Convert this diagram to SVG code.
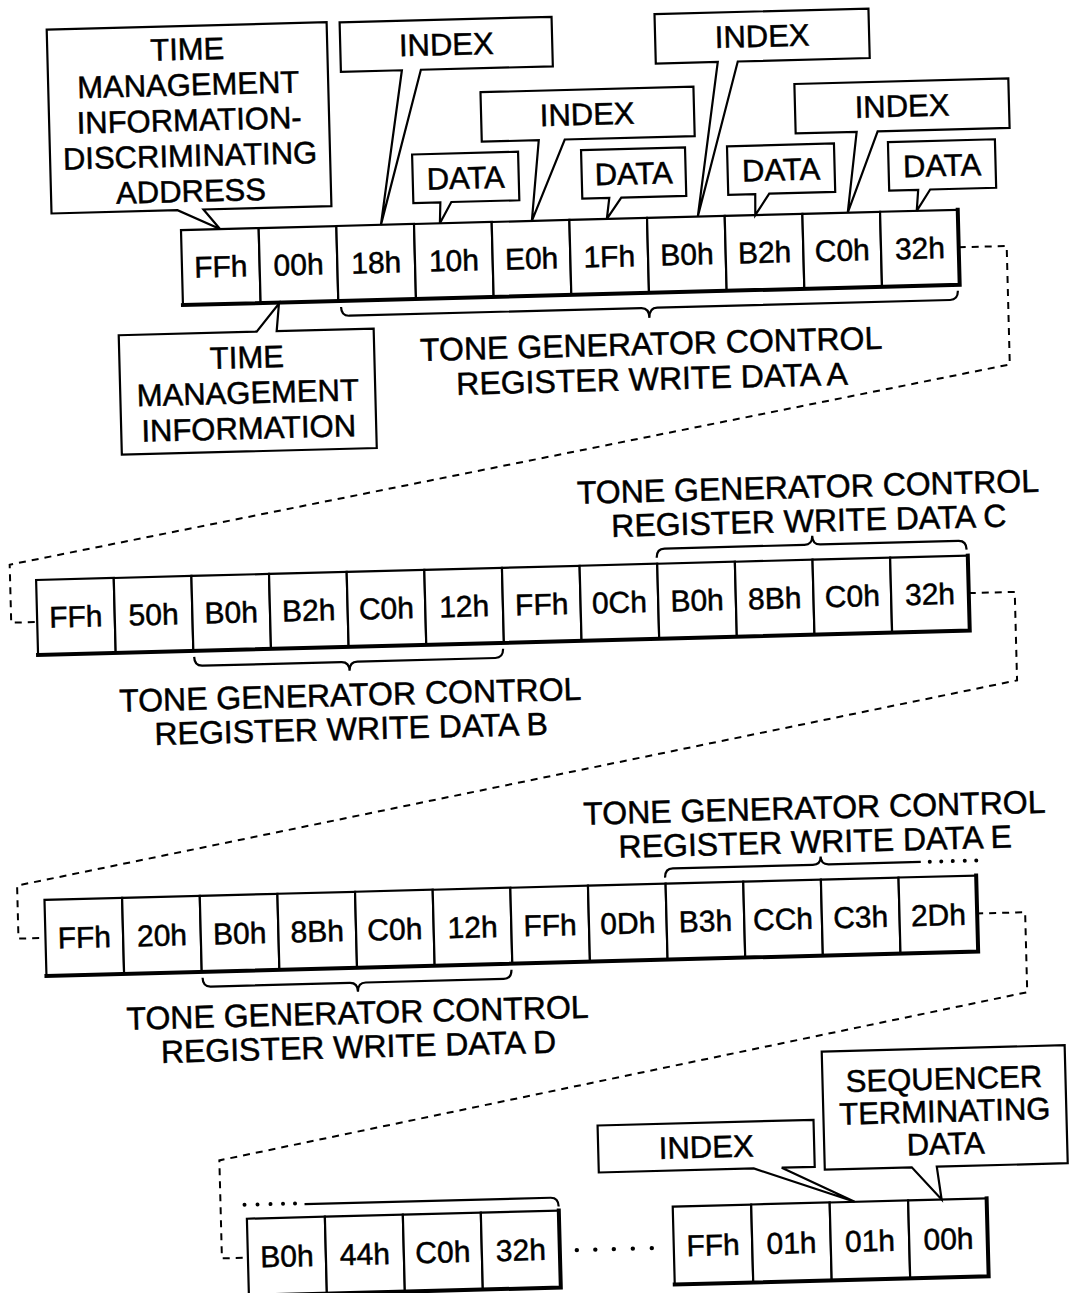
<svg xmlns="http://www.w3.org/2000/svg" width="1069" height="1293" viewBox="0 0 1069 1293">
<style>
  .bg{fill:#fff}
  .cell{fill:#fff;stroke:#000;stroke-width:2.2}
  .edge{fill:none;stroke:#000;stroke-width:4;stroke-linecap:square}
  .call{fill:#fff;stroke:#000;stroke-width:2.2;stroke-linejoin:miter}
  .brace{fill:none;stroke:#000;stroke-width:2.2}
  .dash{fill:none;stroke:#000;stroke-width:2;stroke-dasharray:7 6}
  .dot{fill:#000}
  text{font-family:"Liberation Sans",Arial,Helvetica,sans-serif;fill:#000;stroke:#000;stroke-width:0.5;text-anchor:middle}
  .v{font-size:30px}
  .c{font-size:31px}
  .l{font-size:32px}
</style>
<rect class="bg" x="0" y="0" width="1069" height="1293"/>
<g transform="rotate(-1.5 534 646)">

<g id="connectors">
  <path class="dash" d="M969 258.5 H1017 V377 L12 551 V609 H38"/>
  <path class="dash" d="M970 604.5 H1016 V693 L11 872 V925 H38"/>
  <path class="dash" d="M969 925 H1018 V1005 L206 1152 V1250 H232"/>
  <g id="gap-dots">
    <circle class="dot" cx="561" cy="1251" r="2.2"/>
    <circle class="dot" cx="579.5" cy="1251" r="2.2"/>
    <circle class="dot" cx="598" cy="1251" r="2.2"/>
    <circle class="dot" cx="617" cy="1251" r="2.2"/>
    <circle class="dot" cx="636" cy="1251" r="2.2"/>
  </g>
</g>

<!-- Row 1 -->
<g id="row1">
  <rect class="cell" x="192" y="221" width="77.7" height="75"/>
  <rect class="cell" x="269.7" y="221" width="77.7" height="75"/>
  <rect class="cell" x="347.4" y="221" width="77.7" height="75"/>
  <rect class="cell" x="425.1" y="221" width="77.7" height="75"/>
  <rect class="cell" x="502.8" y="221" width="77.7" height="75"/>
  <rect class="cell" x="580.5" y="221" width="77.7" height="75"/>
  <rect class="cell" x="658.2" y="221" width="77.7" height="75"/>
  <rect class="cell" x="735.9" y="221" width="77.7" height="75"/>
  <rect class="cell" x="813.6" y="221" width="77.7" height="75"/>
  <rect class="cell" x="891.3" y="221" width="77.7" height="75"/>
  <path class="edge" d="M192 296 H969 V221"/>
  <text class="v" x="230.9" y="269">FFh</text>
  <text class="v" x="308.6" y="269">00h</text>
  <text class="v" x="386.3" y="269">18h</text>
  <text class="v" x="464" y="269">10h</text>
  <text class="v" x="541.7" y="269">E0h</text>
  <text class="v" x="619.4" y="269">1Fh</text>
  <text class="v" x="697.1" y="269">B0h</text>
  <text class="v" x="774.8" y="269">B2h</text>
  <text class="v" x="852.5" y="269">C0h</text>
  <text class="v" x="930.2" y="269">32h</text>
</g>

<g id="callout-tmida">
  <polygon class="call" points="63,17 343,17 343,201 215,201 231,221 189,201 63,201"/>
  <text class="c" x="203" y="51">TIME</text>
  <text class="c" x="203" y="86.5">MANAGEMENT</text>
  <text class="c" x="203" y="122">INFORMATION-</text>
  <text class="c" x="203" y="157.5">DISCRIMINATING</text>
  <text class="c" x="203" y="193">ADDRESS</text>
</g>
<g id="callout-index1">
  <polygon class="call" points="356,17.5 568,17.5 568,67 436,67 392,221 417,67 356,67"/>
  <text class="c" x="462" y="53">INDEX</text>
</g>
<g id="callout-index2">
  <polygon class="call" points="495,91 708,91 708,140.5 578,140.5 543,221 552,140.5 495,140.5"/>
  <text class="c" x="601" y="126.5">INDEX</text>
</g>
<g id="callout-index3">
  <polygon class="call" points="671,17.5 885,17.5 885,67 753,67 709,221 733,67 671,67"/>
  <text class="c" x="778" y="53">INDEX</text>
</g>
<g id="callout-index4">
  <polygon class="call" points="809,91 1023,91 1023,140.5 891,140.5 859,221 870,140.5 809,140.5"/>
  <text class="c" x="916" y="126.5">INDEX</text>
</g>
<g id="callout-data1">
  <polygon class="call" points="425,151.5 531,151.5 531,200 463,200 451,221 452,200 425,200"/>
  <text class="c" x="478" y="187">DATA</text>
</g>
<g id="callout-data2">
  <polygon class="call" points="594,151.5 698,151.5 698,200 633,200 618,221 621,200 594,200"/>
  <text class="c" x="646" y="187">DATA</text>
</g>
<g id="callout-data3">
  <polygon class="call" points="740,151.5 847,151.5 847,200 781,200 766.5,221 767,200 740,200"/>
  <text class="c" x="793.5" y="187">DATA</text>
</g>
<g id="callout-data4">
  <polygon class="call" points="901,151.5 1008,151.5 1008,200 942,200 928,221 930,200 901,200"/>
  <text class="c" x="954.5" y="187">DATA</text>
</g>
<g id="callout-tmi">
  <polygon class="call" points="127,324.5 265,324.5 288,297 285,324.5 382,324.5 382,444 127,444"/>
  <text class="c" x="254.5" y="360.5">TIME</text>
  <text class="c" x="254.5" y="396">MANAGEMENT</text>
  <text class="c" x="254.5" y="431.5">INFORMATION</text>
</g>
<g id="label-a">
  <path class="brace" d="M350 302 Q350 311 358 311 L650 311 Q658 311 658 321 Q658 311 666 311 L959 311 Q967 311 967 302"/>
  <text class="l" x="659" y="358">TONE GENERATOR CONTROL</text>
  <text class="l" x="659" y="393">REGISTER WRITE DATA A</text>
</g>

<!-- Row 2 -->
<g id="row2">
  <rect class="cell" x="38" y="567" width="77.67" height="75"/>
  <rect class="cell" x="115.67" y="567" width="77.67" height="75"/>
  <rect class="cell" x="193.33" y="567" width="77.67" height="75"/>
  <rect class="cell" x="271" y="567" width="77.67" height="75"/>
  <rect class="cell" x="348.67" y="567" width="77.67" height="75"/>
  <rect class="cell" x="426.33" y="567" width="77.67" height="75"/>
  <rect class="cell" x="504" y="567" width="77.67" height="75"/>
  <rect class="cell" x="581.67" y="567" width="77.67" height="75"/>
  <rect class="cell" x="659.33" y="567" width="77.67" height="75"/>
  <rect class="cell" x="737" y="567" width="77.67" height="75"/>
  <rect class="cell" x="814.67" y="567" width="77.67" height="75"/>
  <rect class="cell" x="892.33" y="567" width="77.67" height="75"/>
  <path class="edge" d="M38 642 H970 V567"/>
  <text class="v" x="76.8" y="615">FFh</text>
  <text class="v" x="154.5" y="615">50h</text>
  <text class="v" x="232.2" y="615">B0h</text>
  <text class="v" x="309.8" y="615">B2h</text>
  <text class="v" x="387.5" y="615">C0h</text>
  <text class="v" x="465.2" y="615">12h</text>
  <text class="v" x="542.8" y="615">FFh</text>
  <text class="v" x="620.5" y="615">0Ch</text>
  <text class="v" x="698.2" y="615">B0h</text>
  <text class="v" x="775.8" y="615">8Bh</text>
  <text class="v" x="853.5" y="615">C0h</text>
  <text class="v" x="931.2" y="615">32h</text>
</g>
<g id="label-b">
  <path class="brace" d="M194 648 Q194 657 202 657 L341 657 Q349 657 349 666 Q349 657 357 657 L495 657 Q503 657 503 648"/>
  <text class="l" x="349" y="701">TONE GENERATOR CONTROL</text>
  <text class="l" x="349" y="735">REGISTER WRITE DATA B</text>
</g>
<g id="label-c">
  <path class="brace" d="M659 561 Q659 552 667 552 L807 552 Q815 552 815 543 Q815 552 823 552 L961 552 Q969 552 969 561"/>
  <text class="l" x="812" y="505">TONE GENERATOR CONTROL</text>
  <text class="l" x="812" y="539">REGISTER WRITE DATA C</text>
</g>

<!-- Row 3 -->
<g id="row3">
  <rect class="cell" x="38" y="887" width="77.67" height="76"/>
  <rect class="cell" x="115.67" y="887" width="77.67" height="76"/>
  <rect class="cell" x="193.33" y="887" width="77.67" height="76"/>
  <rect class="cell" x="271" y="887" width="77.67" height="76"/>
  <rect class="cell" x="348.67" y="887" width="77.67" height="76"/>
  <rect class="cell" x="426.33" y="887" width="77.67" height="76"/>
  <rect class="cell" x="504" y="887" width="77.67" height="76"/>
  <rect class="cell" x="581.67" y="887" width="77.67" height="76"/>
  <rect class="cell" x="659.33" y="887" width="77.67" height="76"/>
  <rect class="cell" x="737" y="887" width="77.67" height="76"/>
  <rect class="cell" x="814.67" y="887" width="77.67" height="76"/>
  <rect class="cell" x="892.33" y="887" width="77.67" height="76"/>
  <path class="edge" d="M38 963 H970 V887"/>
  <text class="v" x="76.8" y="936">FFh</text>
  <text class="v" x="154.5" y="936">20h</text>
  <text class="v" x="232.2" y="936">B0h</text>
  <text class="v" x="309.8" y="936">8Bh</text>
  <text class="v" x="387.5" y="936">C0h</text>
  <text class="v" x="465.2" y="936">12h</text>
  <text class="v" x="542.8" y="936">FFh</text>
  <text class="v" x="620.5" y="936">0Dh</text>
  <text class="v" x="698.2" y="936">B3h</text>
  <text class="v" x="775.8" y="936">CCh</text>
  <text class="v" x="853.5" y="936">C3h</text>
  <text class="v" x="931.2" y="936">2Dh</text>
</g>
<g id="label-d">
  <path class="brace" d="M194 969 Q194 978 202 978 L341 978 Q349 978 349 987 Q349 978 357 978 L495 978 Q503 978 503 969"/>
  <text class="l" x="348" y="1019">TONE GENERATOR CONTROL</text>
  <text class="l" x="348" y="1053">REGISTER WRITE DATA D</text>
</g>
<g id="label-e">
  <path class="brace" d="M659 881 Q659 872 667 872 L807 872 Q815 872 815 864 Q815 872 823 872 L915 872"/>
  <circle class="dot" cx="924" cy="872" r="2"/>
  <circle class="dot" cx="935.5" cy="872" r="2"/>
  <circle class="dot" cx="947" cy="872" r="2"/>
  <circle class="dot" cx="959" cy="872" r="2"/>
  <circle class="dot" cx="970.5" cy="872" r="2"/>
  <text class="l" x="810" y="826">TONE GENERATOR CONTROL</text>
  <text class="l" x="810" y="860">REGISTER WRITE DATA E</text>
</g>

<!-- Row 4 -->
<g id="row4a">
  <rect class="cell" x="232" y="1211" width="78" height="77"/>
  <rect class="cell" x="310" y="1211" width="78" height="77"/>
  <rect class="cell" x="388" y="1211" width="78" height="77"/>
  <rect class="cell" x="466" y="1211" width="78" height="77"/>
  <path class="edge" d="M232 1288 H544 V1211"/>
  <text class="v" x="271" y="1260">B0h</text>
  <text class="v" x="349" y="1260">44h</text>
  <text class="v" x="427" y="1260">C0h</text>
  <text class="v" x="505" y="1260">32h</text>
</g>
<g id="brace-cont">
  <circle class="dot" cx="230" cy="1197" r="2"/>
  <circle class="dot" cx="243" cy="1197" r="2"/>
  <circle class="dot" cx="256" cy="1197" r="2"/>
  <circle class="dot" cx="268.5" cy="1197" r="2"/>
  <circle class="dot" cx="280.5" cy="1197" r="2"/>
  <path class="brace" d="M290 1198 L536 1198 Q544 1198 544 1207"/>
</g>
<g id="row4b">
  <rect class="cell" x="658" y="1210" width="78.5" height="78"/>
  <rect class="cell" x="736.5" y="1210" width="78.5" height="78"/>
  <rect class="cell" x="815" y="1210" width="78.5" height="78"/>
  <rect class="cell" x="893.5" y="1210" width="78.5" height="78"/>
  <path class="edge" d="M658 1288 H972 V1210"/>
  <text class="v" x="697.3" y="1260">FFh</text>
  <text class="v" x="775.8" y="1260">01h</text>
  <text class="v" x="854.3" y="1260">01h</text>
  <text class="v" x="932.8" y="1260">00h</text>
</g>
<g id="callout-index5">
  <polygon class="call" points="585,1127 801,1127 801,1174 768,1174 840,1210 740,1174 585,1174"/>
  <text class="c" x="693" y="1162">INDEX</text>
</g>
<g id="callout-seq">
  <polygon class="call" points="811,1059 1054,1059 1054,1177 923,1177 927,1210 898,1177 811,1177"/>
  <text class="c" x="932.5" y="1100">SEQUENCER</text>
  <text class="c" x="932.5" y="1132.5">TERMINATING</text>
  <text class="c" x="932.5" y="1165">DATA</text>
</g>
</g>
</svg>
